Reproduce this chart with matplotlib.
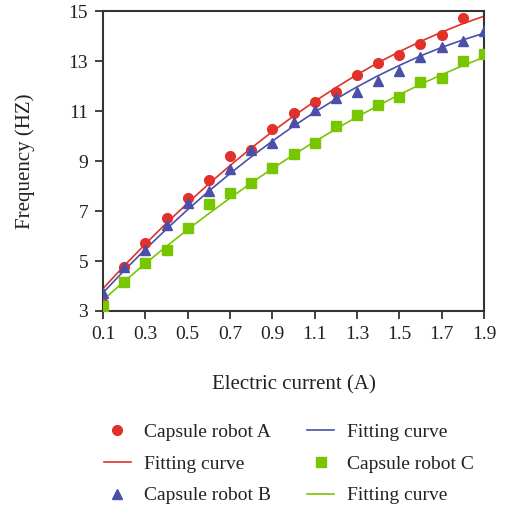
import numpy as np
import matplotlib
matplotlib.use('Agg')
import matplotlib.pyplot as plt
from matplotlib.lines import Line2D

plt.rcParams['font.family'] = ['Liberation Serif', 'DejaVu Serif']

# 数据
current = [0.1, 0.2, 0.3, 0.4, 0.5, 0.6, 0.7, 0.8, 0.9, 1.0,
           1.1, 1.2, 1.3, 1.4, 1.5, 1.6, 1.7, 1.8, 1.9]

robot_a = [3.32, 4.76, 5.72, 6.72, 7.52, 8.24, 9.2, 9.45, 10.28, 10.92,
           11.36, 11.76, 12.44, 12.92, 13.24, 13.68, 14.04, 14.72]
robot_b = [3.72, 4.76, 5.44, 6.44, 7.32, 7.8, 8.68, 9.44, 9.72, 10.56,
           11.04, 11.52, 11.76, 12.2, 12.6, 13.16, 13.56, 13.8, 14.2]
robot_c = [3.2, 4.16, 4.92, 5.44, 6.32, 7.28, 7.72, 8.12, 8.72, 9.28,
           9.72, 10.4, 10.84, 11.24, 11.56, 12.16, 12.32, 13.0, 13.28]

fit_a = [3.90, 4.81, 5.68, 6.52, 7.32, 8.09, 8.82, 9.52, 10.18, 10.8,
         11.39, 11.94, 12.46, 12.94, 13.38, 13.79, 14.16, 14.50, 14.8]
fit_b = [3.73, 4.62, 5.47, 6.28, 7.06, 7.80, 8.50, 9.17, 9.80, 10.4,
         10.96, 11.48, 11.97, 12.42, 12.83, 13.21, 13.55, 13.85, 14.12]
fit_c = [3.44, 4.18, 4.90, 5.59, 6.26, 6.90, 7.52, 8.12, 8.70, 9.25,
         9.78, 10.28, 10.77, 11.22, 11.66, 12.07, 12.46, 12.82, 13.16]

RED = '#e2302a'
BLUE = '#4a4fa8'
GREEN = '#78c600'

fig = plt.figure(figsize=(5.1, 5.09), dpi=100)
ax = fig.add_axes([0.202, 0.389, 0.747, 0.589])

ax.plot(current, fit_a, color=RED, lw=1.2, zorder=2)
ax.plot(current, fit_b, color=BLUE, lw=1.2, zorder=2)
ax.plot(current, fit_c, color=GREEN, lw=1.2, zorder=2)

h_a, = ax.plot(current[:len(robot_a)], robot_a, 'o', color=RED, ms=7, ls='none', zorder=3)
h_b, = ax.plot(current, robot_b, '^', color=BLUE, ms=7, ls='none', zorder=4)
h_c, = ax.plot(current, robot_c, 's', color=GREEN, ms=6.5, ls='none', zorder=3)

ax.set_xlim(0.1, 1.9)
ax.set_ylim(3, 15)
ax.set_xticks(np.arange(0.1, 1.91, 0.2))
ax.set_xticklabels(['0.1', '0.3', '0.5', '0.7', '0.9', '1.1', '1.3', '1.5', '1.7', '1.9'])
ax.set_yticks([3, 5, 7, 9, 11, 13, 15])

for sp in ax.spines.values():
    sp.set_color('#333333')
    sp.set_linewidth(1.5)
ax.tick_params(direction='out', length=5.8, width=1.3, colors='#333333',
               labelcolor='#222222', labelsize=14, pad=5)

ax.set_xlabel('Electric current (A)', fontsize=15, color='#222222', labelpad=23)
ax.set_ylabel('Frequency (HZ)', fontsize=15, color='#222222', labelpad=24)

l_a = Line2D([], [], color=RED, lw=1.2)
l_b = Line2D([], [], color=BLUE, lw=1.2)
l_c = Line2D([], [], color=GREEN, lw=1.2)
handles = [h_a, l_a, h_b, l_b, h_c, l_c]
labels = ['Capsule robot A', 'Fitting curve', 'Capsule robot B',
          'Fitting curve', 'Capsule robot C', 'Fitting curve']
fig.legend(handles, labels, ncol=2, loc='upper left', bbox_to_anchor=(0.169, 0.203),
           frameon=False, fontsize=14, numpoints=1, handlelength=1.4,
           handletextpad=0.67, columnspacing=1.85, labelspacing=0.73,
           labelcolor='#222222')

plt.savefig('out.png', dpi=100)
plt.close()
